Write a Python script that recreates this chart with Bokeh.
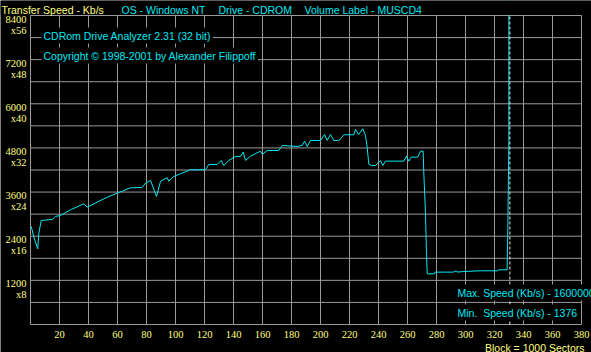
from bokeh.plotting import figure
from bokeh.models import Label, LabelSet, ColumnDataSource, Range1d
from bokeh.embed import file_html
from bokeh.resources import INLINE

# ---------------- data ----------------
block = [0.5, 2.3, 5.0, 5.7, 7.4, 15.0, 17.2, 20.7, 27.6, 36.8, 39.1, 52.9, 59.8, 69.0,
         77.0, 79.3, 82.8, 86.9, 89.7, 94.3, 95.4, 98.8, 103.4, 110.3, 120.7, 123.0,
         128.8, 131.5, 133.3, 136.8, 141.4, 144.8, 146.7, 148.3, 151.7, 158.6, 159.8,
         163.2, 171.2, 173.6, 183.9, 187.4, 189.0, 190.8, 193.1, 200.0, 202.8, 204.6,
         206.9, 209.2, 211.7, 213.3, 216.1, 223.0, 224.1, 226.4, 229.2, 231.0, 232.2,
         233.3, 235.0, 237.9, 241.4, 243.0, 244.8, 257.5, 259.3, 260.9, 262.6, 267.1,
         269.0, 270.8, 271.2, 272.4, 273.1, 273.6, 278.6, 279.0, 291.9, 292.4, 294.0,
         294.3, 298.9, 310.3, 322.1, 323.0, 328.7, 329.2, 329.9, 330.9]
speed = [2665, 2375, 2058, 2474, 2828, 2855, 2937, 2964, 3118, 3282, 3190, 3462, 3570, 3717,
         3726, 3842, 3916, 3481, 3897, 3989, 3897, 4024, 4098, 4206, 4206, 4350,
         4350, 4459, 4323, 4459, 4568, 4568, 4686, 4459, 4576, 4712, 4622,
         4731, 4731, 4867, 4840, 4867, 4984, 4840, 5003, 5003, 5166, 5003,
         5166, 5003, 5003, 5022, 5158, 5158, 5302, 5166, 5321, 5139, 4822,
         4360, 4323, 4323, 4459, 4323, 4441, 4441, 4577, 4441, 4550, 4550,
         4712, 4712, 4160, 3054, 1922, 1378, 1378, 1424, 1424, 1450, 1450,
         1424, 1441, 1460, 1460, 1487, 1487, 2640, 4950, 1600000]

end_block = 330.6

x_ticks = [20, 40, 60, 80, 100, 120, 140, 160, 180, 200, 220, 240, 260, 280, 300, 320, 340, 360, 380]
x_tick_labels = ["20", "40", "60", "80", "100", "120", "140", "160", "180", "200", "220",
                 "240", "260", "280", "300", "320", "340", "360", "380"]
y_tick_values = [1200, 2400, 3600, 4800, 6000, 7200, 8400]
y_tick_labels = ["1200", "2400", "3600", "4800", "6000", "7200", "8400"]
y_multipliers = ["x8", "x16", "x24", "x32", "x40", "x48", "x56"]

header_speed = "Transfer Speed - Kb/s"
header_os = "OS - Windows NT"
header_drive = "Drive - CDROM"
header_volume = "Volume Label - MUSCD4"
app_name = "CDRom Drive Analyzer 2.31 (32 bit)"
copyright_text = "Copyright \u00a9 1998-2001 by Alexander Filippoff"
max_text = "Max. Speed (Kb/s) - 1600000"
min_text = "Min.\u00a0 Speed (Kb/s) - 1376"
block_text = "Block = 1000 Sectors"

# ---------------- layout ----------------
W, H = 591, 352
FL, FR, FT, FB = 30, 581, 15, 324      # plot box in pixels
XMAX, YMAX = 380, 8400
XSTEP, YSTEP = 20, 600

YELLOW = "#FFFF80"
CYAN = "#00E8F0"
GRID = "#9A9A9A"
FONT = "Liberation Sans"
FS = "10.5px"

DX = XMAX / (FR - FL)   # data units per pixel
DY = YMAX / (FB - FT)


def px_x(px):
    return (px - FL) * DX


def px_y(py):
    return (FB - py) * DY


p = figure(width=W, height=H, output_backend="svg", toolbar_location=None,
           x_range=Range1d(px_x(0), px_x(W)), y_range=Range1d(px_y(H), px_y(0)),
           min_border=0)
p.background_fill_color = "black"
p.border_fill_color = "black"
p.outline_line_color = None
p.axis.visible = False
p.grid.visible = False

# grid
gx = list(range(0, XMAX + 1, XSTEP))
gy = list(range(0, YMAX + 1, YSTEP))
p.segment(x0=gx, y0=[0] * len(gx), x1=gx, y1=[YMAX] * len(gx), line_color=GRID, line_width=1)
p.segment(x0=[0] * len(gy), y0=gy, x1=[XMAX] * len(gy), y1=gy, line_color=GRID, line_width=1)

# speed curve
p.line(block, speed, line_color=CYAN, line_width=1)

# keep the curve inside the plot box (black mask above the top border)
p.quad(left=px_x(0), right=px_x(W), bottom=YMAX + 0.5 * DY, top=px_y(0),
       fill_color="black", line_color=None)

# end-of-disc marker
p.segment(x0=[end_block], y0=[0], x1=[end_block], y1=[YMAX], line_color="#E8E8E8",
          line_dash="3 2", line_width=1)

# tick labels
txt = dict(text_color=YELLOW, text_font=FONT, text_font_size=FS, text_baseline="alphabetic")
xsrc = ColumnDataSource(dict(x=x_ticks, y=[px_y(337)] * len(x_ticks), t=x_tick_labels))
p.add_layout(LabelSet(x="x", y="y", text="t", source=xsrc, text_align="center", **txt))
ysrc = ColumnDataSource(dict(x=[px_x(26)] * len(y_tick_values),
                             yn=[v - 7 * DY for v in y_tick_values],
                             ym=[v - 18 * DY for v in y_tick_values],
                             n=y_tick_labels, m=y_multipliers))
p.add_layout(LabelSet(x="x", y="yn", text="n", source=ysrc, text_align="right", **txt))
p.add_layout(LabelSet(x="x", y="ym", text="m", source=ysrc, text_align="right", **txt))


def lab(text, px, py, color, align="left", bg=None):
    kw = {}
    if bg:
        kw = dict(background_fill_color=bg, background_fill_alpha=1.0, padding=2)
    p.add_layout(Label(x=px_x(px), y=px_y(py), text=text, text_color=color,
                       text_font=FONT, text_font_size=FS, text_align=align,
                       text_baseline="alphabetic", **kw))


lab(header_speed, 1, 9, YELLOW)
lab(header_os, 121, 9, CYAN)
lab(header_drive, 218, 9, CYAN)
lab(header_volume, 304, 9, CYAN)
lab(app_name, 41, 35, CYAN, bg="black")
lab(copyright_text, 41, 55, CYAN, bg="black")
lab(max_text, 455, 292, CYAN, bg="black")
lab(min_text, 455, 312, CYAN, bg="black")
lab(block_text, 584, 347, YELLOW, align="right")

open("out.html", "w").write(file_html(p, INLINE))
